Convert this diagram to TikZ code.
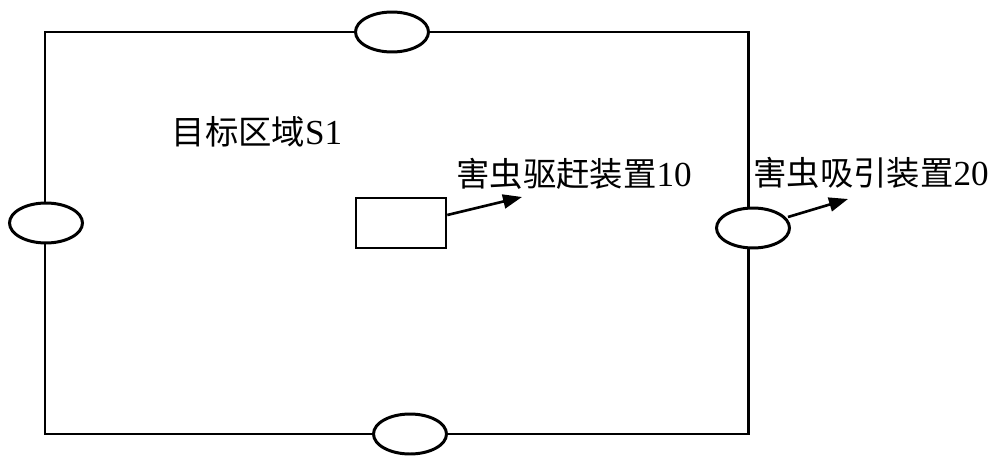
\documentclass[tikz,border=0pt]{standalone}
\usepackage{fontspec}
\setmainfont{Liberation Serif}
\newfontfamily\cjk{Noto Sans CJK SC}[Scale=0.95]
\usetikzlibrary{shapes.geometric,arrows.meta}
\tikzset{
  line/.style={line width=1.7pt},
  port/.style={ellipse,draw,line width=1.7pt,fill=white,minimum width=1.46cm,minimum height=0.8cm,inner sep=0pt},
  box/.style={draw,line width=1.5pt,minimum width=1.8cm,minimum height=1.0cm,inner sep=0pt},
  lbl/.style={font=\fontsize{20}{22}\selectfont,inner sep=0pt},
  pointer/.style={line width=1.5pt,-{Triangle[length=0.38cm,width=0.28cm]}}
}
\begin{document}
\begin{tikzpicture}[x=0.02cm,y=-0.02cm]
\useasboundingbox (0,0) rectangle (1000,466);
\coordinate (c1) at (45,32);
\coordinate (c2) at (748,32);
\coordinate (c3) at (748,434);
\coordinate (c4) at (45,434);
\draw[line] (c1) -- (c2) -- (c3) -- (c4) -- cycle;
\node[port] (top) at (392,32) {};
\node[port] (left) at (46,223) {};
\node[port] (right) at (753,228) {};
\node[port] (bottom) at (410,434) {};
\node[box] (dev) at (401,223) {};
\node[lbl] (area) at (257,132) {{\cjk 目标区域}S1};
\node[lbl] (l1) at (574,174) {{\cjk 害虫驱赶装置}10};
\node[lbl] (l2) at (871,173) {{\cjk 害虫吸引装置}20};
\coordinate (a1) at (522,197);
\coordinate (a2) at (848,199);
\draw[pointer] (dev.east |- 0,215) -- (a1);
\draw[pointer] (788,217) -- (a2);
\end{tikzpicture}
\end{document}
